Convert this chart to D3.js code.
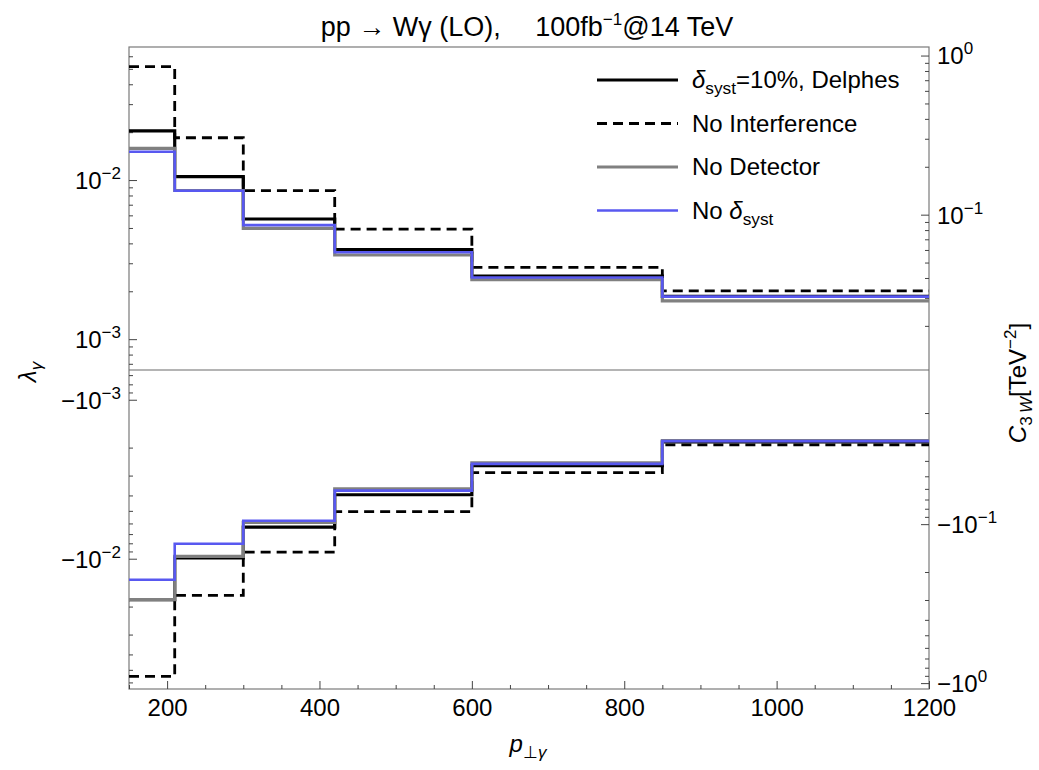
<!DOCTYPE html>
<html>
<head>
<meta charset="utf-8">
<script src="https://cdn.jsdelivr.net/npm/d3@7"></script>
<style>
  body { margin: 0; background: #fff; }
  text { font-family: "Liberation Sans", Arial, sans-serif; fill: #000; }
</style>
</head>
<body>
<div id="chart"></div>
<script>
// bin edges in p_T (GeV)
const binEdges = [150, 210, 300, 420, 600, 850, 1200];

// upper bounds (positive lambda) per bin
const delphesPos = [0.0204, 0.0105, 0.00569, 0.00366, 0.00249, 0.00186];
const noIntPos   = [0.0516, 0.01845, 0.00857, 0.00492, 0.00283, 0.00201];
const noDetPos   = [0.0158, 0.0086, 0.00497, 0.00338, 0.00237, 0.00174];
const noSystPos  = [0.01506, 0.00857, 0.00521, 0.00352, 0.00244, 0.00185];

// lower bounds (negative lambda) per bin
const delphesNeg = [-0.0181, -0.0099, -0.00632, -0.00396, -0.0026, -0.00184];
const noIntNeg   = [-0.055, -0.017, -0.00908, -0.00505, -0.00287, -0.00192];
const noDetNeg   = [-0.0181, -0.00967, -0.0059, -0.00363, -0.00249, -0.00181];
const noSystNeg  = [-0.01355, -0.00805, -0.00577, -0.00373, -0.00253, -0.00182];

const xTicks = [200, 400, 600, 800, 1000, 1200];
const leftTicksPos = [1e-3, 1e-2];
const leftTicksNeg = [1e-3, 1e-2];
const rightTicksPos = [1e-1, 1];
const rightTicksNeg = [1e-1, 1];

const legendLabels = ["δ|syst|=10%, Delphes", "No Interference", "No Detector", "No δ|syst|"];

const C3W_FACTOR = 16.5;

const WIDTH = 1039, HEIGHT = 770;
const LEFT = 129, RIGHT = 929, TOP = 47, BOTTOM = 689, MID = 370;

const svg = d3.select("#chart").append("svg")
  .attr("width", WIDTH).attr("height", HEIGHT);

const x = d3.scaleLinear().domain([150, 1200]).range([LEFT, RIGHT]);
const yPos = d3.scaleLog().domain([6.4e-4, 0.0686]).range([MID, TOP]);
const yNeg = d3.scaleLog().domain([6.5e-4, 0.066]).range([MID, BOTTOM]);
const yPosR = d3.scaleLog().domain(yPos.domain().map(d => d * C3W_FACTOR)).range([MID, TOP]);
const yNegR = d3.scaleLog().domain(yNeg.domain().map(d => d * C3W_FACTOR)).range([MID, BOTTOM]);
const y = v => v > 0 ? yPos(v) : yNeg(-v);

// frame + middle line
svg.append("rect")
  .attr("x", LEFT).attr("y", TOP)
  .attr("width", RIGHT - LEFT).attr("height", BOTTOM - TOP)
  .attr("fill", "none").attr("stroke", "#7a7a7a").attr("stroke-width", 1.2);
svg.append("line")
  .attr("x1", LEFT).attr("x2", RIGHT).attr("y1", MID).attr("y2", MID)
  .attr("stroke", "#6a6a6a").attr("stroke-width", 1.2);

// power-of-ten label with superscript
function powLabel(sel, neg) {
  sel.each(function(d) {
    const t = d3.select(this).text(null);
    const e = Math.round(Math.log10(d));
    t.append("tspan").text((neg ? "\u2212" : "") + "10");
    t.append("tspan").attr("dy", -10).attr("font-size", 17)
      .text(e < 0 ? "\u2212" + (-e) : String(e));
  });
}

function logAxis(axisFn, scale, xPos, majors, neg) {
  const minors = scale.ticks().filter(t => !majors.some(m => Math.abs(m - t) / m < 1e-6));
  svg.append("g").attr("transform", `translate(${xPos},0)`)
    .call(axisFn(scale).tickValues(minors).tickSize(-4).tickFormat(""))
    .call(g => g.select(".domain").remove())
    .call(g => g.selectAll("line").attr("stroke", "#444"));
  svg.append("g").attr("transform", `translate(${xPos},0)`)
    .call(axisFn(scale).tickValues(majors).tickSize(-8).tickPadding(8).tickFormat(d => d))
    .call(g => g.select(".domain").remove())
    .call(g => g.selectAll("line").attr("stroke", "#444"))
    .call(g => g.selectAll("text").attr("font-size", 24).attr("dy", "0.35em")
      .attr("font-family", null).call(powLabel, neg));
}

logAxis(d3.axisLeft, yPos, LEFT, leftTicksPos, false);
logAxis(d3.axisLeft, yNeg, LEFT, leftTicksNeg, true);
logAxis(d3.axisRight, yPosR, RIGHT, rightTicksPos, false);
logAxis(d3.axisRight, yNegR, RIGHT, rightTicksNeg, true);

// x axis
const xMinor = d3.range(150, 1201, 50).filter(v => !xTicks.includes(v));
svg.append("g").attr("transform", `translate(0,${BOTTOM})`)
  .call(d3.axisBottom(x).tickValues(xMinor).tickSize(-4).tickFormat(""))
  .call(g => g.select(".domain").remove())
  .call(g => g.selectAll("line").attr("stroke", "#444"));
svg.append("g").attr("transform", `translate(0,${BOTTOM})`)
  .call(d3.axisBottom(x).tickValues(xTicks).tickSize(-8).tickPadding(10).tickFormat(d3.format("d")))
  .call(g => g.select(".domain").remove())
  .call(g => g.selectAll("line").attr("stroke", "#444"))
  .call(g => g.selectAll("text").attr("font-size", 24).attr("font-family", null));

// step curves
const series = [
  { pos: delphesPos, neg: delphesNeg, color: "#000", width: 3.2, dash: null },
  { pos: noIntPos, neg: noIntNeg, color: "#000", width: 2.8, dash: "10,6" },
  { pos: noDetPos, neg: noDetNeg, color: "#808080", width: 3.2, dash: null },
  { pos: noSystPos, neg: noSystNeg, color: "#5858f0", width: 2.6, dash: null }
];

const line = d3.line().x(d => x(d[0])).y(d => y(d[1])).curve(d3.curveStepAfter);
const toSteps = vals => vals.map((v, i) => [binEdges[i], v]).concat([[binEdges[binEdges.length - 1], vals[vals.length - 1]]]);

const plot = svg.append("g");
series.forEach(s => {
  [s.pos, s.neg].forEach(vals => {
    plot.append("path")
      .attr("d", line(toSteps(vals)))
      .attr("fill", "none")
      .attr("stroke", s.color)
      .attr("stroke-width", s.width)
      .attr("stroke-dasharray", s.dash);
  });
});

// legend
function richText(t, str, size) {
  const parts = str.split("|");
  parts.forEach((p, i) => {
    if (i % 2 === 1) {
      t.append("tspan").attr("font-size", size * 0.72).attr("dy", 6).text(p);
    } else {
      const dy = i > 0 ? -6 : 0;
      const chunks = p.split(/(δ)/);
      let first = true;
      chunks.forEach(c => {
        if (!c) return;
        const ts = t.append("tspan").text(c);
        if (c === "δ") ts.attr("font-style", "italic");
        if (first && dy) ts.attr("dy", dy);
        first = false;
      });
    }
  });
}

const legend = svg.append("g");
legendLabels.forEach((lab, i) => {
  const s = series[i];
  const ly = 80 + i * 43.5;
  legend.append("line")
    .attr("x1", 597).attr("x2", 678).attr("y1", ly).attr("y2", ly)
    .attr("stroke", s.color).attr("stroke-width", s.width)
    .attr("stroke-dasharray", s.dash);
  const t = legend.append("text").attr("x", 692).attr("y", ly + 8).attr("font-size", 24);
  richText(t, lab, 24);
});

// title
svg.append("text").attr("x", 527).attr("y", 36).attr("text-anchor", "middle")
  .attr("font-size", 27)
  .call(t => {
    t.append("tspan").text("pp \u2192 W\u03b3 (LO),\u2003 100fb");
    t.append("tspan").attr("dy", -11).attr("font-size", 17).text("\u22121");
    t.append("tspan").attr("dy", 11).text("@14 TeV");
  });

// axis labels
svg.append("text").attr("transform", "translate(36,372) rotate(-90)")
  .attr("text-anchor", "middle").attr("font-size", 24)
  .call(t => {
    t.append("tspan").attr("font-style", "italic").text("\u03bb");
    t.append("tspan").attr("font-style", "italic").attr("font-size", 17).attr("dy", 6).text("\u03b3");
  });

svg.append("text").attr("transform", "translate(1026,383) rotate(-90)")
  .attr("text-anchor", "middle").attr("font-size", 24)
  .call(t => {
    t.append("tspan").attr("font-style", "italic").text("C");
    t.append("tspan").attr("font-size", 17).attr("dy", 6).text("3\u2009");
    t.append("tspan").attr("font-size", 17).attr("font-style", "italic").text("W");
    t.append("tspan").attr("dy", -6).text("[TeV");
    t.append("tspan").attr("font-size", 17).attr("dy", -10).text("\u22122");
    t.append("tspan").attr("dy", 10).text("]");
  });

svg.append("text").attr("x", 528).attr("y", 752).attr("text-anchor", "middle")
  .attr("font-size", 24)
  .call(t => {
    t.append("tspan").attr("font-style", "italic").text("p");
    t.append("tspan").attr("font-size", 17).attr("dy", 6).text("\u22a5");
    t.append("tspan").attr("font-size", 17).attr("font-style", "italic").text("\u03b3");
  });
</script>
</body>
</html>
